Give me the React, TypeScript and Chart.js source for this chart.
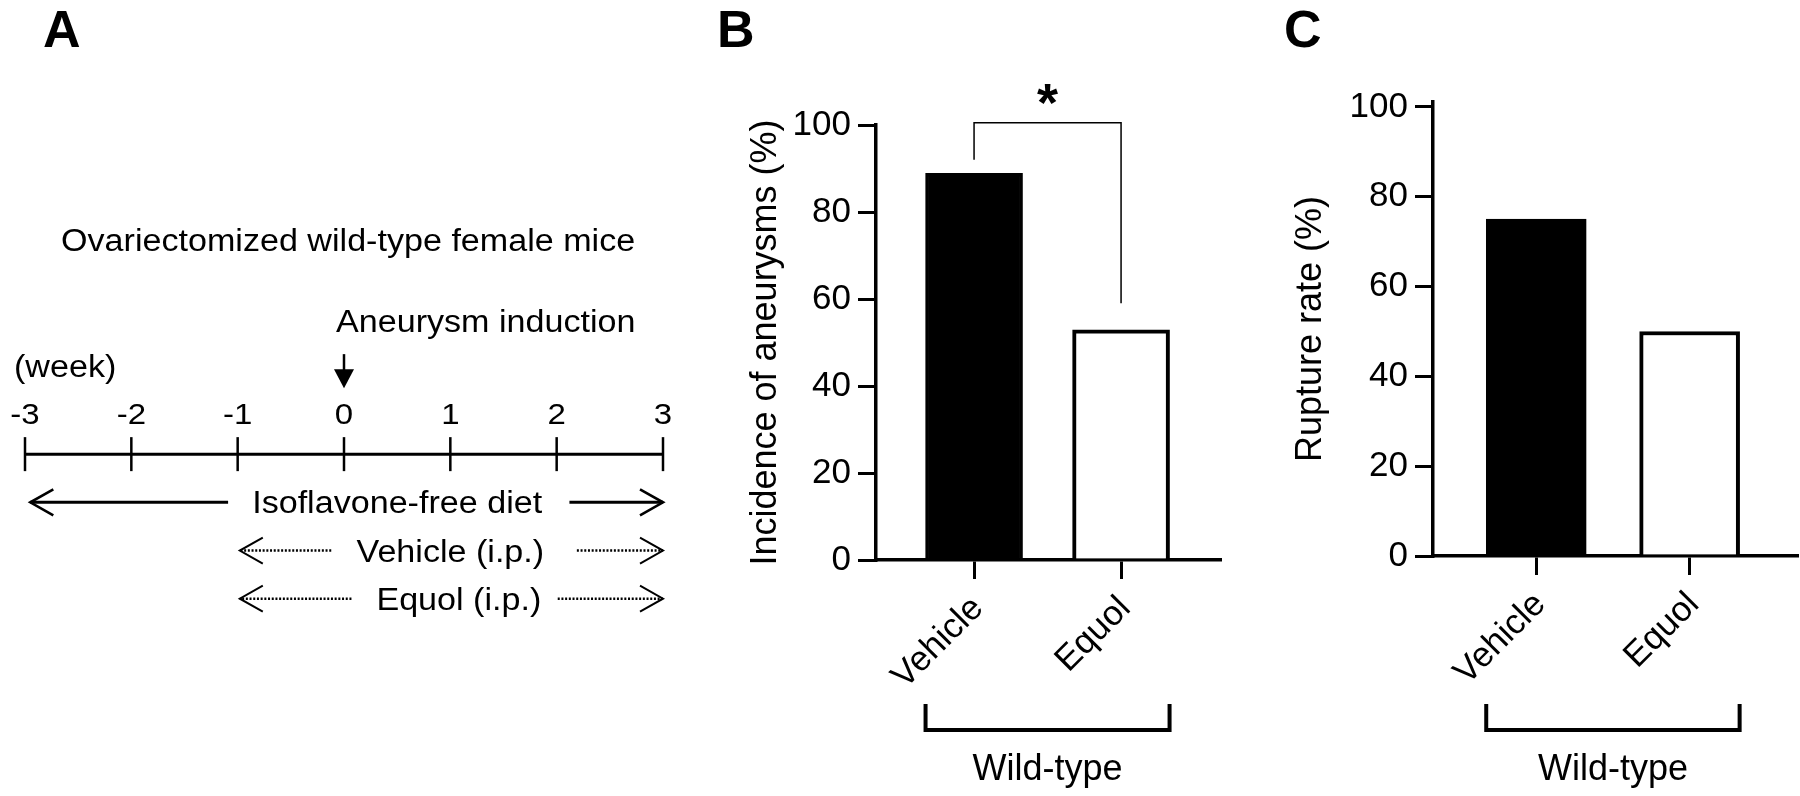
import React, { useEffect, useRef } from "react";
import { Chart, registerables } from "chart.js";

Chart.register(...registerables);

const FONT = "'Liberation Sans', Arial, Helvetica, sans-serif";

// ---------------- Panel A : timeline data ----------------
const weekTicks = [-3, -2, -1, 0, 1, 2, 3];
const weekMin = -3;
const weekMax = 3;
const inductionWeek = 0;
const timelineRow = 0;
const regimenLabels = ["Isoflavone-free diet", "Vehicle (i.p.)", "Equol (i.p.)"];
const regimenRows = [1, 2, 3];
const regimenLabelWeek = [0.5, 1.0, 1.08];
// [tail, tip] in weeks
const regimenLeftArrow = [
  [-1.09, -2.95],
  [-0.12, -0.98],
  [0.07, -0.98],
];
const regimenRightArrow = [
  [2.12, 3.0],
  [2.19, 3.0],
  [2.01, 3.0],
];
const regimenDotted = [false, true, true];
const cohortLabel = "Ovariectomized wild-type female mice";
const inductionLabel = "Aneurysm induction";
const unitLabel = "(week)";

// ---------------- Panels B, C : bar data ----------------
const groups = ["Vehicle", "Equol"];
const incidenceValues = [88.9, 52.9];
const ruptureValues = [75, 50];
const yTickValues = [0, 20, 40, 60, 80, 100];
const sigBracketTop = 100.5;
const sigBracketLegEnds = [92, 59];
const sigLabel = "*";
const groupLabel = "Wild-type";

const SX = 1.1; // horizontal stretch of panel A lettering

function stretchedText(ctx: CanvasRenderingContext2D, text: string, x: number, y: number, size: number, align: CanvasTextAlign) {
  ctx.save();
  ctx.font = `${size}px ${FONT}`;
  ctx.fillStyle = "#000";
  ctx.textAlign = align;
  ctx.textBaseline = "alphabetic";
  ctx.translate(x, y);
  ctx.scale(SX, 1);
  ctx.fillText(text, 0, 0);
  ctx.restore();
}

const timelineDecor = {
  id: "timelineDecor",
  afterDatasetsDraw(chart: any) {
    const ctx: CanvasRenderingContext2D = chart.ctx;
    const xs = chart.scales.x;
    const ys = chart.scales.y;
    const y0 = ys.getPixelForValue(timelineRow);
    ctx.save();
    ctx.strokeStyle = "#000";
    ctx.fillStyle = "#000";
    // arrow heads (open chevrons)
    chart.data.datasets.forEach((ds: any, i: number) => {
      if (!ds.arrowHead) return;
      const pts = chart.getDatasetMeta(i).data;
      const tail = pts[0];
      const tip = pts[1];
      const dir = tail.x > tip.x ? 1 : -1;
      ctx.beginPath();
      ctx.setLineDash([]);
      ctx.lineWidth = ds.arrowHead;
      ctx.lineJoin = "miter";
      ctx.moveTo(tip.x + dir * 23, tip.y - 13);
      ctx.lineTo(tip.x, tip.y);
      ctx.lineTo(tip.x + dir * 23, tip.y + 13);
      ctx.stroke();
    });
    // week numbers
    weekTicks.forEach((w) => {
      stretchedText(ctx, String(w), xs.getPixelForValue(w), y0 - 30, 30, "center");
    });
    stretchedText(ctx, unitLabel, xs.getPixelForValue(weekMin) - 11, y0 - 77, 31, "left");
    // induction arrow
    const xi = xs.getPixelForValue(inductionWeek);
    ctx.beginPath();
    ctx.lineWidth = 2.5;
    ctx.moveTo(xi, y0 - 100);
    ctx.lineTo(xi, y0 - 84);
    ctx.stroke();
    ctx.beginPath();
    ctx.moveTo(xi - 10, y0 - 85);
    ctx.lineTo(xi + 10, y0 - 85);
    ctx.lineTo(xi, y0 - 66);
    ctx.closePath();
    ctx.fill();
    stretchedText(ctx, inductionLabel, xi - 8, y0 - 122, 31, "left");
    stretchedText(ctx, cohortLabel, 61, y0 - 203, 31, "left");
    // regimen labels
    regimenLabels.forEach((t, i) => {
      stretchedText(ctx, t, xs.getPixelForValue(regimenLabelWeek[i]), ys.getPixelForValue(regimenRows[i]) + 11, 31, "center");
    });
    // panel letter
    ctx.font = `bold 52px ${FONT}`;
    ctx.textAlign = "left";
    ctx.textBaseline = "alphabetic";
    ctx.fillText("A", 43, 47);
    ctx.restore();
  },
};

function timelineConfig(): any {
  const datasets: any[] = [
    {
      label: "timeline",
      data: [
        { x: weekMin, y: timelineRow },
        { x: weekMax, y: timelineRow },
      ],
      showLine: true,
      borderColor: "#000",
      borderWidth: 3,
      pointRadius: 0,
      clip: false,
    },
    {
      label: "week ticks",
      data: weekTicks.map((w) => ({ x: w, y: timelineRow })),
      showLine: false,
      pointStyle: "line",
      pointRotation: 90,
      pointRadius: 17,
      pointBorderColor: "#000",
      pointBorderWidth: 2.5,
      clip: false,
    },
  ];
  regimenRows.forEach((row, i) => {
    [regimenLeftArrow[i], regimenRightArrow[i]].forEach((seg) => {
      datasets.push({
        label: regimenLabels[i],
        data: [
          { x: seg[0], y: row },
          { x: seg[1], y: row },
        ],
        showLine: true,
        borderColor: "#000",
        borderWidth: regimenDotted[i] ? 2.5 : 3,
        borderDash: regimenDotted[i] ? [2, 1.7] : [],
        borderCapStyle: "butt",
        pointRadius: 0,
        clip: false,
        arrowHead: regimenDotted[i] ? 2 : 2.6,
      });
    });
  });
  return {
    type: "scatter",
    data: { datasets },
    options: {
      responsive: false,
      animation: false,
      devicePixelRatio: 1,
      events: [],
      layout: { padding: { left: 25, right: 37, top: 0, bottom: 0 } },
      plugins: { legend: { display: false }, tooltip: { enabled: false } },
      scales: {
        x: { type: "linear", display: false, min: weekMin, max: weekMax },
        y: { type: "linear", display: false, reverse: true, min: -9.02, max: 6.69 },
      },
    },
    plugins: [timelineDecor],
  };
}

function barDecor(opts: any) {
  return {
    id: "barDecor",
    afterDraw(chart: any) {
      const ctx: CanvasRenderingContext2D = chart.ctx;
      const xs = chart.scales.x;
      const ys = chart.scales.y;
      const meta = chart.getDatasetMeta(0);
      ctx.save();
      ctx.fillStyle = "#000";
      ctx.strokeStyle = "#000";
      ctx.font = `bold 52px ${FONT}`;
      ctx.textAlign = "left";
      ctx.textBaseline = "alphabetic";
      ctx.fillText(opts.letter, opts.letterX, 47);
      if (opts.sig) {
        const xa = xs.getPixelForValue(0);
        const xb = xs.getPixelForValue(1);
        const yt = ys.getPixelForValue(sigBracketTop);
        ctx.beginPath();
        ctx.lineWidth = 1.5;
        ctx.moveTo(xa, ys.getPixelForValue(sigBracketLegEnds[0]));
        ctx.lineTo(xa, yt);
        ctx.lineTo(xb, yt);
        ctx.lineTo(xb, ys.getPixelForValue(sigBracketLegEnds[1]));
        ctx.stroke();
        ctx.font = `bold 54px ${FONT}`;
        ctx.textAlign = "center";
        ctx.fillText(sigLabel, (xa + xb) / 2, yt - 2);
      }
      const b0: any = meta.data[0];
      const b1: any = meta.data[meta.data.length - 1];
      const left = b0.x - b0.width / 2;
      const right = b1.x + b1.width / 2;
      ctx.beginPath();
      ctx.lineWidth = 4;
      ctx.lineJoin = "miter";
      ctx.lineCap = "butt";
      ctx.moveTo(left, 704);
      ctx.lineTo(left, 730);
      ctx.lineTo(right, 730);
      ctx.lineTo(right, 704);
      ctx.stroke();
      ctx.font = `36px ${FONT}`;
      ctx.textAlign = "center";
      ctx.fillText(groupLabel, (left + right) / 2, 780);
      ctx.restore();
    },
  };
}

function barConfig(p: any): any {
  return {
    type: "bar",
    data: {
      datasets: [
        {
          data: p.values.map((v: number, i: number) => ({ x: i, y: v })),
          backgroundColor: ["#000", "#fff"],
          borderColor: "#000",
          borderWidth: [3, 4],
          barThickness: p.barThickness,
        },
      ],
    },
    options: {
      responsive: false,
      animation: false,
      devicePixelRatio: 1,
      events: [],
      layout: { padding: { left: p.padLeft, top: p.padTop, right: p.padRight, bottom: 0 } },
      plugins: { legend: { display: false }, tooltip: { enabled: false } },
      scales: {
        x: {
          type: "linear",
          offset: false,
          min: p.xMin,
          max: p.xMax,
          afterBuildTicks: (s: any) => {
            s.ticks = groups.map((_, i) => ({ value: i }));
          },
          afterFit: (s: any) => {
            s.height = p.xAxisHeight;
          },
          ticks: {
            callback: (v: any) => groups[v],
            autoSkip: false,
            maxRotation: 45,
            minRotation: 45,
            color: "#000",
            font: { family: FONT, size: 35 },
            padding: 9,
            labelOffset: 4,
          },
          grid: {
            offset: false,
            drawOnChartArea: false,
            drawTicks: true,
            tickLength: 19,
            tickWidth: 3,
            lineWidth: 3,
            tickColor: "#000",
          },
          border: { display: true, color: "#000", width: 3.5 },
        },
        y: {
          type: "linear",
          min: 0,
          max: p.yMax,
          afterBuildTicks: (s: any) => {
            s.ticks = yTickValues.map((v) => ({ value: v }));
          },
          afterFit: (s: any) => {
            s.width = p.yAxisWidth;
          },
          ticks: { color: "#000", font: { family: FONT, size: 35 }, padding: 7 },
          title: {
            display: true,
            text: p.title,
            color: "#000",
            font: { family: FONT, size: 36 },
            padding: { top: 0, bottom: 0 },
          },
          grid: { drawOnChartArea: false, drawTicks: true, tickLength: 18, tickWidth: 3, lineWidth: 3, tickColor: "#000" },
          border: { display: true, color: "#000", width: 3.5 },
        },
      },
    },
    plugins: [barDecor(p)],
  };
}

export default function App() {
  const aRef = useRef<HTMLCanvasElement>(null);
  const bRef = useRef<HTMLCanvasElement>(null);
  const cRef = useRef<HTMLCanvasElement>(null);

  useEffect(() => {
    document.body.style.margin = "0";
    const charts = [
      new Chart(aRef.current as HTMLCanvasElement, timelineConfig()),
      new Chart(
        bRef.current as HTMLCanvasElement,
        barConfig({
          values: incidenceValues,
          title: "Incidence of aneurysms (%)",
          letter: "B",
          letterX: 17,
          sig: true,
          padLeft: 44,
          yAxisWidth: 132,
          padTop: 125,
          padRight: 40,
          xAxisHeight: 236,
          xMin: -0.667,
          xMax: 1.673,
          yMax: 100,
          barThickness: 97,
        })
      ),
      new Chart(
        cRef.current as HTMLCanvasElement,
        barConfig({
          values: ruptureValues,
          title: "Rupture rate (%)",
          letter: "C",
          letterX: 24,
          sig: false,
          padLeft: 29,
          yAxisWidth: 144,
          padTop: 102,
          padRight: 3,
          xAxisHeight: 240,
          xMin: -0.673,
          xMax: 1.7,
          yMax: 101.1,
          barThickness: 100,
        })
      ),
    ];
    return () => charts.forEach((c) => c.destroy());
  }, []);

  return (
    <div style={{ position: "absolute", left: 0, top: 0, width: 1800, height: 796, background: "#fff", overflow: "hidden" }}>
      <canvas ref={aRef} width={700} height={796} style={{ position: "absolute", left: 0, top: 0 }} />
      <canvas ref={bRef} width={560} height={796} style={{ position: "absolute", left: 700, top: 0 }} />
      <canvas ref={cRef} width={540} height={796} style={{ position: "absolute", left: 1260, top: 0 }} />
    </div>
  );
}
